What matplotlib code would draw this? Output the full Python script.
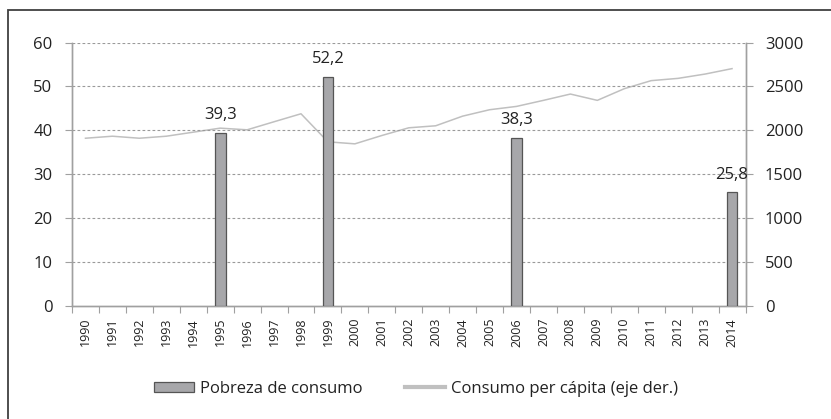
import matplotlib
matplotlib.use("Agg")
import matplotlib.pyplot as plt
from matplotlib import font_manager
from matplotlib.patches import Rectangle, Patch
from matplotlib.lines import Line2D
import numpy as np

years = [str(y) for y in range(1990, 2015)]
poverty = {"1995": 39.3, "1999": 52.2, "2006": 38.3, "2014": 25.8}
poverty_labels = ["39,3", "52,2", "38,3", "25,8"]
consumption = [1908, 1931, 1908, 1931, 1977, 2023, 2004, 2096, 2187, 1867,
               1844, 1939, 2027, 2050, 2160, 2233, 2271, 2340, 2412, 2340,
               2473, 2565, 2591, 2640, 2702]
left_ticks = [0, 10, 20, 30, 40, 50, 60]
right_ticks = [0, 500, 1000, 1500, 2000, 2500, 3000]

names = {f.name for f in font_manager.fontManager.ttflist}
main_font = "Open Sans" if "Open Sans" in names else "DejaVu Sans"
if "Liberation Sans Narrow" in names:
    narrow_font, narrow_size = "Liberation Sans Narrow", 10
else:
    narrow_font, narrow_size = main_font, 9
plt.rcParams["font.family"] = [main_font, "DejaVu Sans"]

W, H = 831, 419
fig = plt.figure(figsize=(W / 100, H / 100), dpi=100)
ax = fig.add_axes([72 / W, 1 - 305.5 / H, (745.5 - 72) / W, (305.5 - 42.5) / H])
ax2 = ax.twinx()

x = np.arange(len(years))
bar_x = [years.index(k) for k in poverty]
bar_vals = list(poverty.values())

grid_c = "#9a9a9a"
for t in left_ticks[1:]:
    ax.axhline(t, color=grid_c, lw=0.8, ls=(0, (2.5, 2)), zorder=0)

ax.bar(bar_x, bar_vals, width=0.4, color="#a7a7aa", edgecolor="#555555",
       linewidth=0.9, zorder=3)
for bx, v, lab in zip(bar_x, bar_vals, poverty_labels):
    ax.annotate(lab, (bx, v), xytext=(0, 10), textcoords="offset points",
                ha="center", va="baseline", fontsize=12, color="#222222")

ax2.plot(x, consumption, color="#c0c0c0", lw=1.1, zorder=2)
ax.set_zorder(ax2.get_zorder() + 1)
ax.patch.set_visible(False)

ax.set_xlim(-0.5, len(years) - 0.5)
ax.set_ylim(0, 60)
ax2.set_ylim(0, 3000)
ax.set_yticks(left_ticks)
ax2.set_yticks(right_ticks)
ax.set_xticks(x)
ax.set_xticklabels(years, rotation=90, fontsize=narrow_size, family=narrow_font,
                   color="#222222")
ax.set_xticks(np.arange(-0.5, len(years)), minor=True)
ax.tick_params(axis="x", which="major", length=0, pad=9)
ax.tick_params(axis="x", which="minor", length=5, color="#a0a0a0", width=0.8)
ax.tick_params(axis="y", length=5, color="#a0a0a0", width=0.8, pad=9,
               labelsize=12, labelcolor="#222222")
ax2.tick_params(axis="y", length=5, color="#a0a0a0", width=0.8, pad=9,
                labelsize=12, labelcolor="#222222")

for a in (ax, ax2):
    for s in a.spines.values():
        s.set_color("#a0a0a0")
        s.set_linewidth(1.0)
    a.spines["top"].set_visible(False)

handles = [Patch(facecolor="#a7a7aa", edgecolor="#555555", linewidth=0.9),
           Line2D([], [], color="#c0c0c0", lw=3)]
fig.legend(handles, ["Pobreza de consumo", "Consumo per cápita (eje der.)"],
           loc="center", bbox_to_anchor=(416 / W, 1 - 389 / H), ncol=2,
           frameon=False, fontsize=12, handlelength=2.4, handleheight=0.6,
           handletextpad=0.4, columnspacing=2.5, labelcolor="#222222")

fig.patches.append(Rectangle((7.5 / W, -0.05), 1.2, (419 - 10) / H + 0.05,
                             transform=fig.transFigure, fill=False,
                             edgecolor="#404040", linewidth=1.3))

fig.savefig("out.png", dpi=100)
